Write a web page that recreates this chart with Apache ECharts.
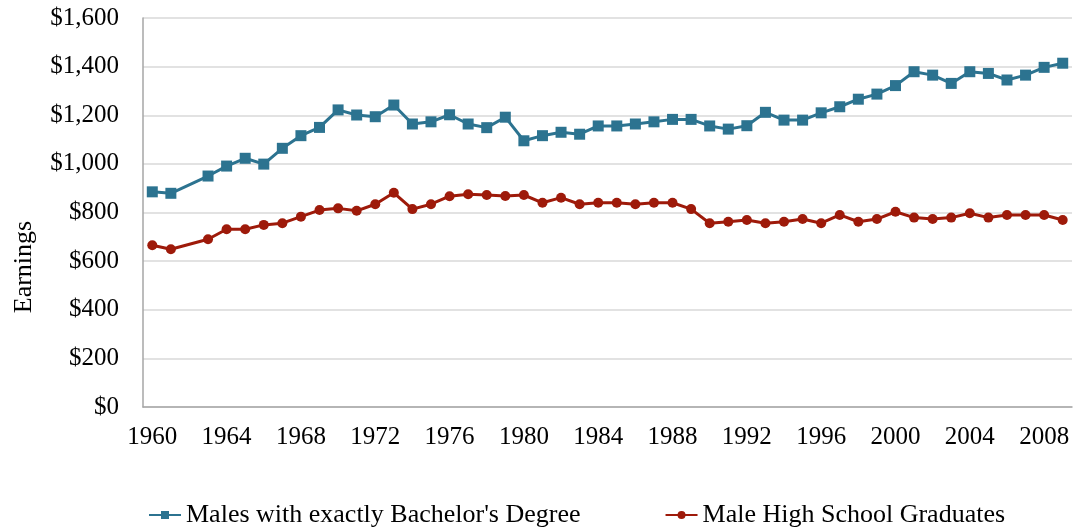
<!DOCTYPE html>
<html lang="en">
<head>
    <meta charset="UTF-8">
    <title>Earnings</title>
    <script src="https://cdn.jsdelivr.net/npm/echarts@6/dist/echarts.min.js"></script>
    <style>
        html, body { margin: 0; padding: 0; background: #fff; }
    </style>
</head>
<body>
<div id="main" style="width: 1074px;height: 527px;"></div>
<script>
    // years 1960..2009, 1962 has no data
    var years = [];
    for (var y = 1960; y <= 2009; y++) years.push(String(y));

    var bachelor = [885, 879, null, 950, 991, 1023, 999, 1064, 1116, 1150,
        1222, 1201, 1194, 1242, 1164, 1173, 1202, 1164, 1149, 1192,
        1095, 1116, 1130, 1122, 1156, 1156, 1164, 1173, 1183, 1183,
        1156, 1143, 1157, 1212, 1180, 1180, 1210, 1235, 1266, 1287,
        1322, 1379, 1365, 1331, 1379, 1372, 1345, 1365, 1397, 1414];

    var highSchool = [665, 649, null, 690, 731, 731, 749, 756, 783, 810,
        817, 807, 834, 881, 814, 834, 867, 875, 872, 868,
        872, 840, 861, 834, 840, 840, 834, 840, 840, 814,
        756, 762, 769, 756, 762, 773, 756, 790, 762, 773,
        803, 779, 773, 779, 797, 779, 790, 790, 790, 769];

    var seriesNames = ["Males with exactly Bachelor's Degree", 'Male High School Graduates'];

    var font = '"Liberation Serif", "DejaVu Serif", serif';

    var myChart = echarts.init(document.getElementById('main'));
    var option = {
        backgroundColor: '#fff',
        animation: false,
        textStyle: { fontFamily: font },
        grid: { left: 143, right: 2, top: 18, bottom: 120 },
        legend: {
            data: seriesNames,
            left: 143,
            top: 497,
            itemWidth: 32,
            itemHeight: 10,
            itemGap: 84,
            textStyle: { fontFamily: font, fontSize: 26, color: '#000' }
        },
        xAxis: {
            type: 'category',
            data: years,
            boundaryGap: true,
            axisLine: { lineStyle: { color: '#a6a6a6', width: 1.5 } },
            axisTick: { show: false },
            axisLabel: {
                interval: 3,
                margin: 18,
                fontSize: 25,
                fontFamily: font,
                color: '#000'
            }
        },
        yAxis: {
            type: 'value',
            min: 0,
            max: 1600,
            interval: 200,
            axisLine: { show: true, lineStyle: { color: '#a6a6a6', width: 1.5 } },
            axisTick: { show: false },
            splitLine: { lineStyle: { color: '#d9d9d9', width: 1.5 } },
            axisLabel: {
                margin: 24,
                fontSize: 25,
                fontFamily: font,
                color: '#000',
                formatter: function (v) {
                    return '$' + v.toLocaleString('en-US');
                }
            }
        },
        graphic: [{
            type: 'text',
            x: 24,
            y: 267,
            rotation: Math.PI / 2,
            style: {
                text: 'Earnings',
                fontFamily: font,
                fontSize: 26,
                fill: '#000',
                align: 'center',
                verticalAlign: 'middle'
            }
        }],
        series: [
            {
                name: seriesNames[0],
                type: 'line',
                data: bachelor,
                connectNulls: true,
                symbol: 'rect',
                symbolSize: 11,
                color: '#2c7390',
                lineStyle: { width: 3 }
            },
            {
                name: seriesNames[1],
                type: 'line',
                data: highSchool,
                connectNulls: true,
                symbol: 'circle',
                symbolSize: 10,
                color: '#9e1a0a',
                lineStyle: { width: 3 }
            }
        ]
    };
    myChart.setOption(option);
</script>
</body>
</html>
